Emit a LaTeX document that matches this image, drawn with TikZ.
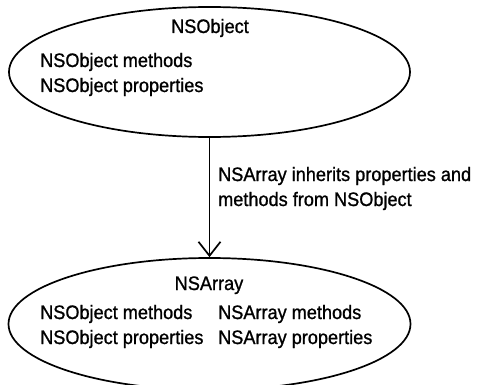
\documentclass[tikz,border=0pt]{standalone}
\usepackage{fontspec}
\setmainfont{Liberation Sans}[FakeStretch=0.93,FakeBold=1]
\usetikzlibrary{shapes.geometric,arrows.meta}
\begin{document}
\begin{tikzpicture}[x=1pt,y=-1pt,
  oval/.style={draw,ellipse,line width=1.7pt,inner sep=0pt},
  txt/.style={inner sep=0pt,font=\fontsize{19.5}{22}\selectfont},
  arr/.style={line width=1.7pt,-{Straight Barb[length=14pt,width=22pt,line width=1.7pt]}}]
\useasboundingbox (0,0) rectangle (479,385);
\node[oval,minimum width=401pt,minimum height=130pt] (obj) at (209.5,72) {};
\node[oval,minimum width=402pt,minimum height=132pt] (arrn) at (209.5,324) {};
\node[txt,anchor=base] (objt) at (210,33) {NSObject};
\node[txt,anchor=base west] (objm) at (40,67) {NSObject methods};
\node[txt,anchor=base west] (objp) at (40,92) {NSObject properties};
\node[txt,anchor=base] (arrt) at (209,290) {NSArray};
\node[txt,anchor=base west] (am1) at (40,319) {NSObject methods};
\node[txt,anchor=base west] (ap1) at (40,344) {NSObject properties};
\node[txt,anchor=base west] (am2) at (218,319) {NSArray methods};
\node[txt,anchor=base west] (ap2) at (218,344) {NSArray properties};
\node[txt,anchor=base west] (lab1) at (218,181) {NSArray inherits properties and};
\node[txt,anchor=base west] (lab2) at (218,206) {methods from NSObject};
\draw[arr] (obj.south) -- (arrn.north);
\end{tikzpicture}
\end{document}
